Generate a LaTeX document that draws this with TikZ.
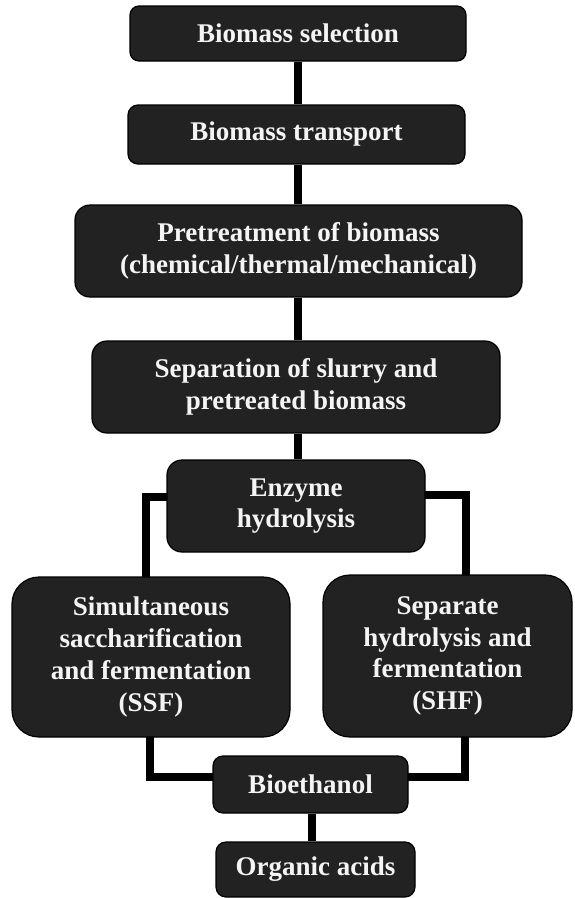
\documentclass[tikz,border=0pt]{standalone}
\usepackage{fontspec}
\setmainfont{Liberation Serif}
\usetikzlibrary{backgrounds}
\definecolor{boxfill}{RGB}{34,34,34}
\definecolor{boxtext}{RGB}{244,244,244}
\tikzset{
  stepbox/.style={draw=black, line width=1.2pt, fill=boxfill, text=boxtext,
    font=\bfseries\fontsize{27}{31.7}\selectfont, align=center, inner sep=0pt},
  link/.style={draw=black, line width=8pt, line join=miter, line cap=butt}
}
\begin{document}
\begin{tikzpicture}[x=1pt, y=-1pt]
  \path[use as bounding box] (0,0) rectangle (574,898);

  % process steps
  \node[stepbox, minimum width=336pt, minimum height=55pt, rounded corners=9pt]
    (b1) at (298,33.5) {Biomass selection};
  \node[stepbox, minimum width=337pt, minimum height=59pt, rounded corners=10pt]
    (b2) at (296.5,134.5) {Biomass transport};
  \node[stepbox, minimum width=447pt, minimum height=92pt, rounded corners=15pt]
    (b3) at (298.5,251) {Pretreatment of biomass\\(chemical/thermal/mechanical)};
  \node[stepbox, minimum width=408pt, minimum height=92pt, rounded corners=15pt]
    (b4) at (296,387) {Separation of slurry and\\pretreated biomass};
  \node[stepbox, minimum width=258pt, minimum height=92pt, rounded corners=15pt]
    (enz) at (296,506) {Enzyme\\hydrolysis};
  \node[stepbox, minimum width=278pt, minimum height=160pt, rounded corners=27pt]
    (ssf) at (151,657) {Simultaneous\\saccharification\\and fermentation\\(SSF)};
  \node[stepbox, minimum width=249pt, minimum height=162pt, rounded corners=27pt]
    (shf) at (447.5,656) {Separate\\hydrolysis and\\fermentation\\(SHF)};
  \node[stepbox, minimum width=195pt, minimum height=57pt, rounded corners=10pt]
    (bio) at (310.5,784.5) {Bioethanol};
  \node[stepbox, minimum width=199pt, minimum height=55pt, rounded corners=10pt]
    (org) at (315.5,869.5) {Organic acids};

  % guide columns for the connectors
  \coordinate (trunk) at (298,0);
  \coordinate (lcol) at (146,497);
  \coordinate (rcol) at (466,495);
  \coordinate (lbot) at (150,777);
  \coordinate (rbot) at (465,777);
  \coordinate (btx) at (312,0);

  \begin{pgfonlayer}{background}
    \fill[white] (0,0) rectangle (574,898);
    \draw[link] (b1.south -| trunk) -- (b2.north -| trunk);
    \draw[link] (b2.south -| trunk) -- (b3.north -| trunk);
    \draw[link] (b3.south -| trunk) -- (b4.north -| trunk);
    \draw[link] (b4.south -| trunk) -- (enz.north -| trunk);
    \draw[link] ([xshift=4pt]enz.west |- lcol) -| ([yshift=-4pt]ssf.north -| lcol);
    \draw[link] ([xshift=-4pt]enz.east |- rcol) -| ([yshift=-4pt]shf.north -| rcol);
    \draw[link] ([yshift=4pt]ssf.south -| lbot) |- ([xshift=4pt]bio.west |- lbot);
    \draw[link] ([yshift=4pt]shf.south -| rbot) |- ([xshift=-4pt]bio.east |- rbot);
    \draw[link] (bio.south -| btx) -- (org.north -| btx);
  \end{pgfonlayer}
\end{tikzpicture}
\end{document}
